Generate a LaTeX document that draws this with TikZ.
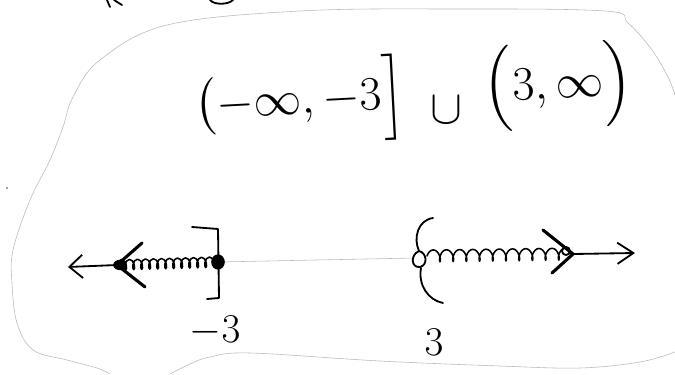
\documentclass[tikz,border=0pt]{standalone}
\usepackage{amsmath,amssymb}
\usepackage{xcolor}
\usepackage{tikz}
\usetikzlibrary{arrows.meta,decorations.pathmorphing}

\tikzset{
  ink/.style={black,line width=1.3pt,line cap=round,line join=round},
  bold ink/.style={ink,line width=2.2pt},
  faint/.style={gray!55,line width=.4pt},
  spring/.style={ink,line width=1.1pt,decorate,decoration={coil,amplitude=.13cm,segment length=.2cm}},
  hand/.style={inner sep=0pt,font=\fontsize{24.88}{30}\selectfont,scale=1.37,transform shape},
  label/.style={inner sep=0pt,font=\fontsize{24.88}{30}\selectfont,scale=1.17,transform shape}
}

\begin{document}
\begin{tikzpicture}[x=0.025cm,y=-0.025cm,>=Stealth]
\useasboundingbox (0,0) rectangle (675,374);
% faint outline round the work
\draw[faint] plot[smooth,tension=.6] coordinates {(110,374) (97,368) (67,360) (33,350) (17,323) (12,283) (13,250) (30,200) (50,160) (63,127) (73,97) (100,60) (167,25) (300,11) (450,9) (605,11) (628,23) (652,50) (668,77) (675,95)};
\draw[faint] plot[smooth,tension=.6] coordinates {(170,374) (190,364) (210,357) (250,353) (380,361) (500,366) (580,368) (640,362) (675,352)};
\fill[gray] (7,188) circle[radius=.03cm];
% cut off strokes at the top edge
\draw[ink] (107,0)--(110,7);
\draw[ink] (114,0)--(122,5);
\draw[ink] (210,0) .. controls (214,5) and (228,5) .. (233,0);
% interval notation
\node[hand,rotate=3] (left) at (300,102) {$\bigl(-\infty,-3\Bigr]$};
\node[hand] (union) at (446,110) {$\cup$};
\node[hand,rotate=3] (right) at (558,86) {$\Bigl(3,\infty\Bigr)$};
% number line
\coordinate (lefttip) at (68,267);
\coordinate (lefthead) at (117,265);
\coordinate (dot) at (218,262);
\coordinate (brace) at (415,258);
\coordinate (coilstart) at (427,256);
\coordinate (righthead) at (573,254);
\coordinate (righttip) at (635,253);
\draw[ink,{Straight Barb[length=3.3mm,width=5.8mm]}-] (lefttip) -- (lefthead);
\draw[spring] (lefthead) -- (dot);
\draw[faint] (dot) -- (brace);
\draw[spring,decoration={amplitude=.15cm,segment length=.33cm}] (coilstart) -- (righthead);
\draw[ink,-{Straight Barb[length=4mm,width=5.3mm]}] (righthead) -- (righttip);
% shading arrowheads
\draw[bold ink] (142,243) -- (lefthead) -- (145,287);
\fill (120,265) ellipse[x radius=.17cm,y radius=.13cm];
\draw[bold ink] (543,230) -- (righthead) -- (552,273);
\draw[ink] (566,251) circle[radius=.1cm];
% closed end at -3
\fill (dot) ellipse[x radius=.17cm,y radius=.19cm];
\draw[ink] (192,227) -- (218,229) -- (219,298) -- (207,299);
% open end at 3
\draw[ink] (433,218) .. controls (418,220) and (413,238) .. (419,251) .. controls (410,255) and (411,268) .. (420,267) .. controls (428,265) and (427,253) .. (419,251);
\draw[ink] (421,268) .. controls (418,285) and (428,300) .. (443,303);
\node[label] (m3) at (215,331) {$-3$};
\node[label] (p3) at (434,342) {$3$};
\end{tikzpicture}
\end{document}
